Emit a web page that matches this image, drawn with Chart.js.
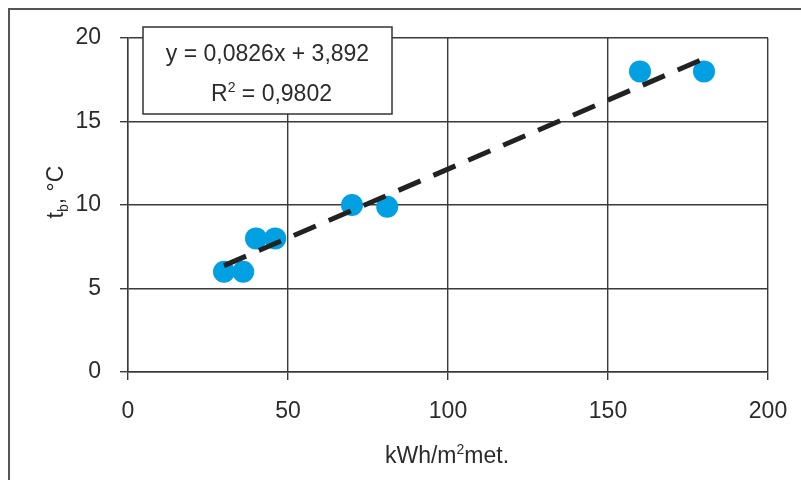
<!DOCTYPE html>
<html>
<head>
<meta charset="utf-8">
<title>t_b vs kWh/m²met.</title>
<script src="https://cdn.jsdelivr.net/npm/chart.js@4.4.1/dist/chart.umd.min.js"></script>
<style>
    html, body { margin: 0; padding: 0; background: #fff; }
    #wrap { width: 801px; height: 480px; position: relative; }
</style>
</head>
<body>
<div id="wrap"><canvas id="chart" width="801" height="480"></canvas></div>
<script>
// 测量点
const energy = [30, 36, 40, 46, 70, 81, 160, 180];
const tempB = [6, 6, 8, 8, 10, 9.9, 18, 18];

// 线性趋势
const slope = 0.0826;
const intercept = 3.892;
const r2 = 0.9802;

const xTicks = [0, 50, 100, 150, 200];
const yTicks = [0, 5, 10, 15, 20];

const FONT = '"Liberation Sans", Arial, sans-serif';
const INK = '#2b2b2b';
const SIZE = 23;

const points = energy.map((x, i) => ({ x: x, y: tempB[i] }));
const xMin = Math.min(...energy);
const xMax = Math.max(...energy);
const trend = [xMin, xMax].map(x => ({ x: x, y: slope * x + intercept }));

const fmt = v => String(v).replace('.', ',');

// 一行文字，parts: [文本, 偏移] 偏移 0 正常, -1 上标, 1 下标
function richText(ctx, parts, cx, y) {
    const small = Math.round(SIZE * 0.6);
    const widths = parts.map(p => {
        ctx.font = (p[1] ? small : SIZE) + 'px ' + FONT;
        return ctx.measureText(p[0]).width;
    });
    let x = cx - widths.reduce((a, b) => a + b, 0) / 2;
    ctx.textAlign = 'left';
    parts.forEach((p, i) => {
        ctx.font = (p[1] ? small : SIZE) + 'px ' + FONT;
        const dy = p[1] < 0 ? -9 : (p[1] > 0 ? 5 : 0);
        ctx.fillText(p[0], x, y + dy);
        x += widths[i];
    });
}

// 外框 + 轴标题 + 方程框
const decorPlugin = {
    id: 'decor',
    beforeDraw(chart) {
        const ctx = chart.ctx;
        ctx.save();
        ctx.fillStyle = '#fff';
        ctx.fillRect(0, 0, chart.width, chart.height);
        ctx.strokeStyle = '#555';
        ctx.lineWidth = 2;
        ctx.beginPath();
        ctx.moveTo(9, chart.height);
        ctx.lineTo(9, 9);
        ctx.lineTo(chart.width, 9);
        ctx.stroke();
        ctx.restore();
    },
    afterDraw(chart) {
        const ctx = chart.ctx;
        ctx.save();
        ctx.fillStyle = INK;
        ctx.textBaseline = 'alphabetic';

        // x 轴标题
        richText(ctx, [['kWh/m', 0], ['2', -1], ['met.', 0]], 447, 463);

        // y 轴标题 t_b, °C
        ctx.translate(63, 192);
        ctx.rotate(-Math.PI / 2);
        richText(ctx, [['t', 0], ['b', 1], [', °C', 0]], 0, 0);
        ctx.setTransform(1, 0, 0, 1, 0, 0);

        // 方程框
        const bx = 143, by = 27, bw = 249, bh = 87;
        ctx.fillStyle = '#fff';
        ctx.fillRect(bx, by, bw, bh);
        ctx.strokeStyle = '#333';
        ctx.lineWidth = 1.5;
        ctx.strokeRect(bx, by, bw, bh);
        ctx.fillStyle = INK;
        richText(ctx, [['y = ' + fmt(slope) + 'x + ' + fmt(intercept), 0]], bx + bw / 2, 61);
        richText(ctx, [['R', 0], ['2', -1], [' = ' + fmt(r2), 0]], bx + bw / 2 + 4, 101);
        ctx.restore();
    }
};

new Chart(document.getElementById('chart'), {
    type: 'scatter',
    data: {
        datasets: [
            {
                label: 'trend',
                type: 'line',
                data: trend,
                borderColor: '#222',
                borderWidth: 5,
                borderDash: [24, 14],
                pointRadius: 0,
                fill: false,
                order: 0
            },
            {
                label: 't_b',
                data: points,
                backgroundColor: '#00a0e3',
                borderColor: '#00a0e3',
                borderWidth: 0,
                pointRadius: 11,
                order: 1
            }
        ]
    },
    options: {
        responsive: false,
        animation: false,
        events: [],
        layout: { padding: { top: 38, right: 33, left: 0, bottom: 0 } },
        plugins: {
            legend: { display: false },
            tooltip: { enabled: false }
        },
        scales: {
            x: {
                type: 'linear',
                min: 0,
                max: 200,
                afterBuildTicks: s => { s.ticks = xTicks.map(v => ({ value: v })); },
                afterFit: s => {
                    s.height = 108;
                    s.paddingLeft = 0;
                    s.paddingRight = 0;
                },
                grid: { color: '#3a3a3a', lineWidth: 1.4, tickLength: 8, drawTicks: true },
                border: { color: '#3a3a3a', width: 1.4 },
                ticks: { color: INK, font: { family: FONT, size: SIZE }, padding: 18, maxRotation: 0 }
            },
            y: {
                type: 'linear',
                min: 0,
                max: 20,
                afterBuildTicks: s => { s.ticks = yTicks.map(v => ({ value: v })); },
                afterFit: s => { s.width = 128; },
                grid: { color: '#3a3a3a', lineWidth: 1.4, tickLength: 8, drawTicks: true },
                border: { color: '#3a3a3a', width: 1.4 },
                ticks: { color: INK, font: { family: FONT, size: SIZE }, padding: 19 }
            }
        }
    },
    plugins: [decorPlugin]
});
</script>
</body>
</html>
